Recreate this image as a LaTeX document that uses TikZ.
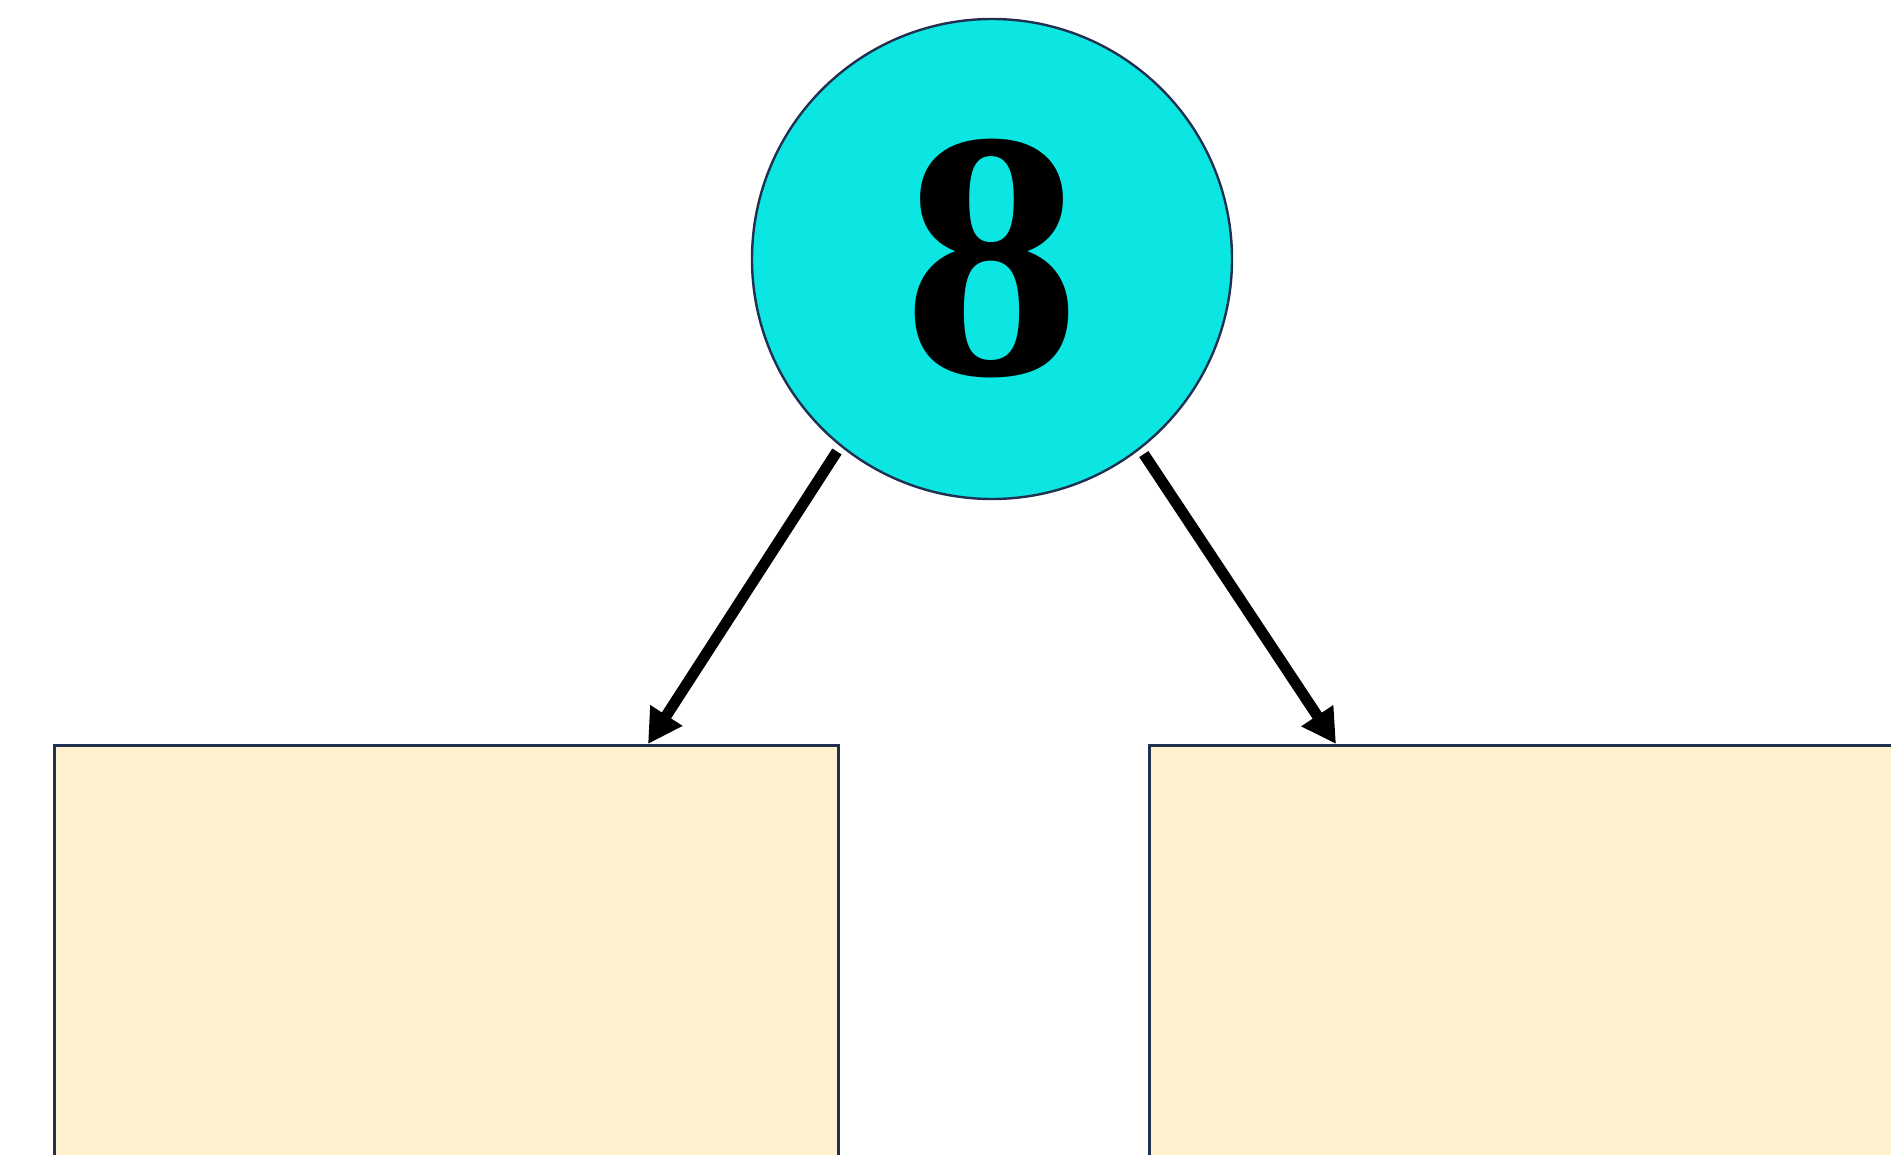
\documentclass[tikz,border=0pt]{standalone}
\usepackage{fontspec}
\setmainfont{Liberation Serif}
\usetikzlibrary{arrows.meta,calc}
\definecolor{cyanfill}{HTML}{0BE6E2}
\definecolor{navyline}{HTML}{1F3050}
\definecolor{boxfill}{HTML}{FFF0CE}
\tikzset{
  bignum/.style={circle, draw=navyline, line width=1.2pt, fill=cyanfill, minimum size=240pt, inner sep=0pt,
    font=\fontsize{177}{177}\selectfont\bfseries},
  panel/.style={rectangle, draw=navyline, line width=1.3pt, fill=boxfill, anchor=north west, inner sep=0pt},
  bigarrow/.style={line width=5.5pt, draw=black, -{Triangle[length=17pt,width=18pt]}, shorten <=3pt}
}
\begin{document}
\begin{tikzpicture}[x=0.5pt,y=-0.5pt]
\useasboundingbox (0,0) rectangle (1891,1155);
\clip (0,0) rectangle (1891,1155);
\node[panel, minimum width=392pt, minimum height=300pt] (lbox) at (53,744) {};
\node[panel, minimum width=430pt, minimum height=300pt] (rbox) at (1148,744) {};
\node[bignum] (num) at (992,259) {8};
\coordinate (ltip) at ($(lbox.north west)+(595,0)$);
\coordinate (rtip) at ($(rbox.north west)+(188,0)$);
\draw[bigarrow] (num.231) -- (ltip);
\draw[bigarrow] (num.308) -- (rtip);
\end{tikzpicture}
\end{document}
